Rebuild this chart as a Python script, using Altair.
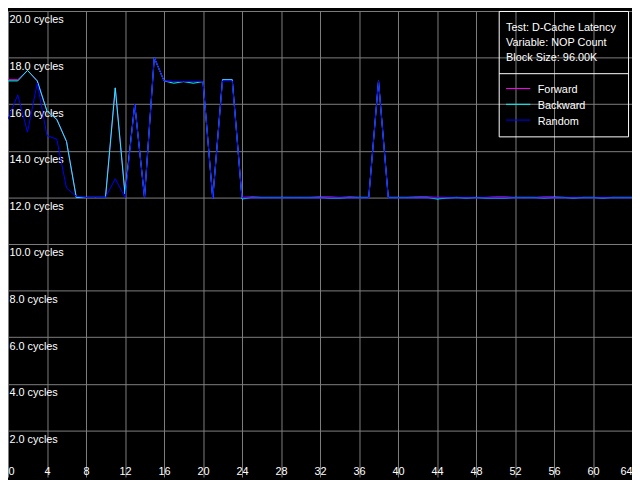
import altair as alt
import pandas as pd

# ---- data ----
nop_count = list(range(65))

forward = [17.05, 17.05, 17.45, 17.0, 15.7, 15.35, 14.4, 12.0, 12.0, 12.0,
           12.0, 16.7, 12.15, 16.0, 12.0, 18.0, 17.0, 16.97, 16.97, 16.97,
           16.97, 11.95, 17.05, 17.05, 12.0, 12.02, 12.0, 12.0, 12.0, 12.0,
           12.0, 12.0, 12.02, 12.02, 12.0, 12.02, 12.0, 12.0, 17.0, 12.0,
           12.0, 12.0, 12.02, 12.02, 12.0, 12.0, 12.0, 12.0, 12.0, 12.0,
           12.02, 12.02, 12.0, 12.0, 12.0, 12.02, 12.02, 12.0, 12.0, 12.0,
           12.0, 12.0, 12.0, 12.0, 12.0]

backward = [17.0, 17.0, 17.45, 17.0, 15.7, 15.35, 14.4, 12.0, 12.0, 12.0,
            12.0, 16.7, 12.15, 16.0, 12.0, 18.0, 17.0, 16.9, 16.97, 16.9,
            16.97, 11.95, 17.05, 17.05, 11.93, 12.0, 12.0, 12.0, 12.0, 12.0,
            12.0, 12.0, 12.0, 11.97, 11.97, 12.0, 12.0, 12.0, 17.0, 12.0,
            12.0, 12.0, 12.0, 12.0, 11.93, 11.97, 12.0, 11.97, 12.0, 11.97,
            11.97, 11.97, 12.0, 12.0, 12.0, 11.97, 12.0, 12.0, 11.97, 12.0,
            12.0, 11.97, 12.0, 12.0, 12.0]

random_ = [15.35, 16.4, 14.8, 16.9, 14.65, 14.5, 12.4, 12.05, 12.0, 12.0,
           12.0, 12.8, 12.0, 16.0, 12.0, 18.0, 17.0, 16.97, 16.97, 16.97,
           16.97, 11.95, 17.0, 17.0, 11.98, 11.98, 11.98, 11.98, 11.98, 11.98,
           11.98, 11.98, 11.98, 11.98, 11.98, 11.98, 11.98, 11.98, 17.0, 11.98,
           11.98, 11.98, 11.98, 11.98, 11.98, 11.98, 11.98, 11.98, 11.98, 11.98,
           11.98, 11.98, 11.98, 11.98, 11.98, 11.98, 11.98, 11.98, 11.98, 11.98,
           11.98, 11.98, 11.98, 11.98, 11.98]

series_names = ["Forward", "Backward", "Random"]
series_colors = ["#ff00ff", "#00ffff", "#0000ff"]
x_ticks = list(range(0, 65, 4))
y_ticks = list(range(2, 21, 2))
info_lines = ["Test: D-Cache Latency", "Variable: NOP Count", "Block Size: 96.00K"]

FONT = "Liberation Sans"
W, H = 632, 472

rows = []
for name, vals in zip(series_names, [forward, backward, random_]):
    for n, v in zip(nop_count, vals):
        rows.append({"nop": n, "cycles": v, "series": name})
df = pd.DataFrame(rows)

x_enc = alt.X("nop:Q",
              scale=alt.Scale(domain=[0, 64], nice=False, zero=False),
              axis=alt.Axis(values=x_ticks, grid=True, gridColor="#808080",
                            gridOpacity=1, gridWidth=1, domain=False, ticks=False,
                            labelColor="white", labelFont=FONT, labelFontSize=11,
                            labelBaseline="alphabetic", labelPadding=-3,
                            labelFlush=True, title=None, orient="bottom"))
y_enc = alt.Y("cycles:Q",
              scale=alt.Scale(domain=[0, 20], nice=False, zero=False),
              axis=alt.Axis(values=y_ticks, grid=True, gridColor="#808080",
                            gridOpacity=1, gridWidth=1, domain=False, ticks=False,
                            labelColor="white", labelFont=FONT, labelFontSize=11,
                            labelAlign="left", labelBaseline="top",
                            labelPadding=-1, labelOffset=3,
                            labelExpr="format(datum.value, '.1f') + ' cycles'",
                            title=None, orient="left"))
color_enc = alt.Color("series:N",
                      scale=alt.Scale(domain=series_names, range=series_colors),
                      legend=None)

layers = []
for name in series_names:
    layers.append(
        alt.Chart(df).transform_filter(alt.datum.series == name)
        .mark_line(strokeWidth=1, clip=True)
        .encode(x=x_enc, y=y_enc, color=color_enc)
    )

# legend / info box (decoration)
dummy = pd.DataFrame({"a": [0]})
box = alt.Chart(dummy).mark_rect(fill=None, stroke="white", strokeWidth=1).encode(
    x=alt.value(497.5), x2=alt.value(628.5), y=alt.value(0.5), y2=alt.value(127.5))
divider = alt.Chart(dummy).mark_rule(color="white", strokeWidth=1).encode(
    x=alt.value(497.5), x2=alt.value(628.5), y=alt.value(63.5))
layers += [box, divider]

for i, line in enumerate(info_lines):
    layers.append(
        alt.Chart(pd.DataFrame({"t": [line]})).mark_text(
            align="left", baseline="alphabetic", color="white", font=FONT, fontSize=11)
        .encode(text="t:N", x=alt.value(504.5), y=alt.value(20 + 15.3 * i))
    )

for i, (name, col) in enumerate(zip(series_names, series_colors)):
    yy = 78.5 + 16 * i
    layers.append(
        alt.Chart(dummy).mark_rule(color=col, strokeWidth=1).encode(
            x=alt.value(504.5), x2=alt.value(529), y=alt.value(yy))
    )
    layers.append(
        alt.Chart(pd.DataFrame({"t": [name]})).mark_text(
            align="left", baseline="alphabetic", color="white", font=FONT, fontSize=11)
        .encode(text="t:N", x=alt.value(536.5), y=alt.value(yy + 4.5))
    )

chart = alt.layer(*layers).properties(
    width=W, height=H, padding=0, autosize=alt.AutoSizeParams(type="none"),
    background="black"
).configure_view(stroke=None)

chart.save("out.html", embed_options={"renderer": "svg", "actions": False})
